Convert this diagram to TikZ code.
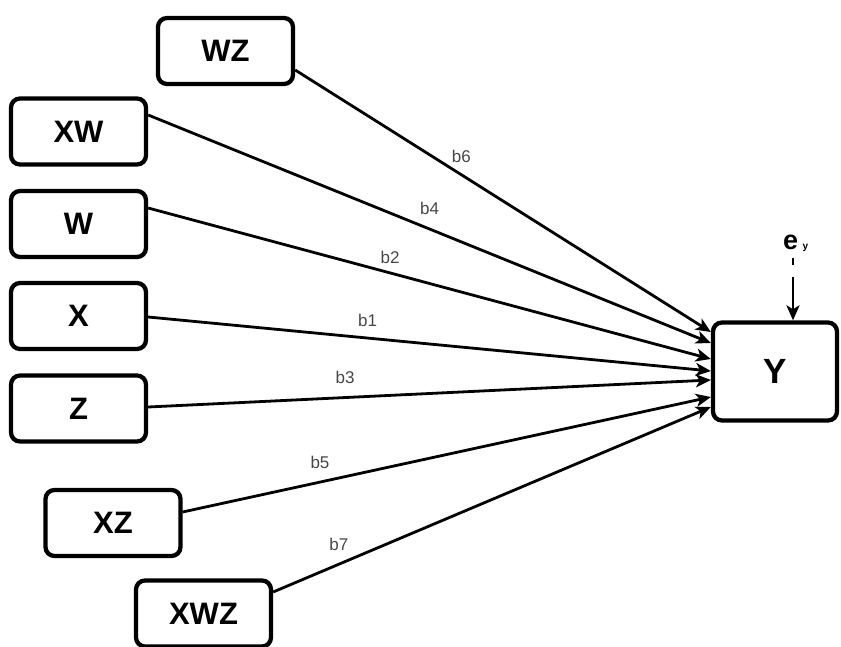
\documentclass[tikz,border=0pt]{standalone}
\usepackage{fontspec}
\setmainfont{Liberation Sans}
\usetikzlibrary{arrows.meta,calc}
\begin{document}
\begin{tikzpicture}[x=1pt,y=1pt,
  var/.style={draw=black, line width=4.3pt, rounded corners=9pt, minimum width=135pt, minimum height=66pt, inner sep=0pt, font=\fontsize{31}{36}\selectfont\bfseries},
  tip/.tip={Stealth[length=15pt,width=13pt,inset=4pt]},
  conn/.style={line width=2.8pt, -tip},
  lbl/.style={font=\fontsize{17}{20}\selectfont, text=black!72, inner sep=0pt}]
\useasboundingbox (0,0) rectangle (841,646);
\node[var] (WZ)  at (225.5,595)  {WZ};
\node[var] (XW)  at (78.5,514.5) {XW};
\node[var] (W)   at (78.5,422)   {W};
\node[var] (X)   at (78.5,330)   {X};
\node[var] (Z)   at (78.5,237.5) {Z};
\node[var] (XZ)  at (113,123)    {XZ};
\node[var] (XWZ) at (203.5,32.5) {XWZ};
\node[var, minimum width=124pt, minimum height=98pt, font=\fontsize{35}{40}\selectfont\bfseries] (Y) at (775,274.5) {Y};
\node[inner sep=0pt, anchor=base west] (ey) at (783,396) {\fontsize{27}{30}\selectfont\bfseries e\,\fontsize{10}{12}\selectfont y};
\coordinate (eyt) at ([xshift=18pt]Y.north);
\draw[line width=2.8pt, dash pattern=on 7pt off 12pt on 60pt, -tip] (ey.south -| eyt) ++(0,-6) -- (eyt);
\draw[conn] ([yshift=-19pt]WZ.east) -- node[lbl, pos=0.40, yshift=18pt]{b6} ([yshift=39.5pt]Y.west);
\draw[conn] ([yshift=16.5pt]XW.east) -- node[lbl, pos=0.50, yshift=21pt]{b4} ([yshift=28.5pt]Y.west);
\draw[conn] ([yshift=16pt]W.east) -- node[lbl, pos=0.43, yshift=16pt]{b2} ([yshift=12.5pt]Y.west);
\draw[conn] ([yshift=-1pt]X.east) -- node[lbl, pos=0.39, yshift=18pt]{b1} ([yshift=0.5pt]Y.west);
\draw[conn] ([yshift=1.5pt]Z.east) -- node[lbl, pos=0.35, yshift=20pt]{b3} ([yshift=-8.5pt]Y.west);
\draw[conn] ([yshift=11pt]XZ.east) -- node[lbl, pos=0.26, yshift=20pt]{b5} ([yshift=-25.5pt]Y.west);
\draw[conn] ([yshift=21.5pt]XWZ.east) -- node[lbl, pos=0.15, yshift=20pt]{b7} ([yshift=-35.5pt]Y.west);
\end{tikzpicture}
\end{document}
